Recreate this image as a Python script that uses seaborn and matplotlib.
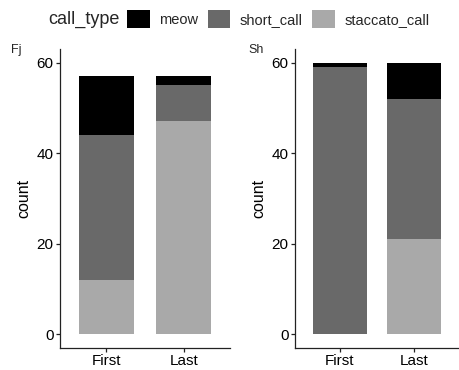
import matplotlib
matplotlib.use("Agg")
import matplotlib.pyplot as plt
import seaborn as sns
import pandas as pd
from matplotlib.patches import Patch

groups = ["Fj", "Sh"]
positions = ["First", "Last"]
call_types = ["meow", "short_call", "staccato_call"]
fj_meow = [13, 2]
fj_short = [32, 8]
fj_staccato = [12, 47]
sh_meow = [1, 8]
sh_short = [59, 31]
sh_staccato = [0, 21]
colors = ["#000000", "#696969", "#a9a9a9"]
y_ticks = [0, 20, 40, 60]

values = {
    "Fj": {"meow": fj_meow, "short_call": fj_short, "staccato_call": fj_staccato},
    "Sh": {"meow": sh_meow, "short_call": sh_short, "staccato_call": sh_staccato},
}
rows = []
for g in groups:
    for ct in call_types:
        for p, v in zip(positions, values[g][ct]):
            rows.append({"group": g, "position": p, "call_type": ct, "count": v})
df = pd.DataFrame(rows)

sns.set_theme(style="ticks")
plt.rcParams["font.family"] = ["Liberation Sans", "DejaVu Sans"]

fig = plt.figure(figsize=(4.6, 3.7), dpi=100)
W, H = 460, 370
axes_px = [(60, 230), (295, 459)]
top_px, bot_px = 49, 348
label_px = [(11, 53), (248, 53)]

for g, (x0, x1), (lx, ly) in zip(groups, axes_px, label_px):
    ax = fig.add_axes([x0 / W, 1 - bot_px / H, (x1 - x0) / W, (bot_px - top_px) / H])
    sub = df[df["group"] == g]
    sns.histplot(data=sub, x="position", hue="call_type", weights="count",
                 multiple="stack", discrete=True, shrink=0.72,
                 hue_order=call_types, palette=colors,
                 alpha=1, linewidth=0, legend=False, ax=ax)
    ax.set_xlim(-0.6, 1.6)
    ax.set_ylim(-3, 63)
    ax.set_xticks([0, 1])
    ax.set_xticklabels(positions)
    ax.set_yticks(y_ticks)
    ax.set_xlabel("")
    ax.set_ylabel("count", fontsize=11.5, labelpad=4, color="black")
    for s in ["top", "right"]:
        ax.spines[s].set_visible(False)
    for s in ["left", "bottom"]:
        ax.spines[s].set_linewidth(0.9)
        ax.spines[s].set_color("#222222")
    ax.tick_params(axis="both", length=3, width=0.9, color="#222222",
                   labelsize=11, labelcolor="black", pad=1.5)
    fig.text(lx / W, 1 - ly / H, g, fontsize=9, ha="left", va="baseline")

fig.text(48 / W, 1 - 19 / H, "call_type", fontsize=13, ha="left", va="center")
handles = [Patch(facecolor=c, edgecolor="none") for c in colors]
fig.legend(handles, call_types, ncol=3, loc="center left",
           bbox_to_anchor=(127 / W, 1 - 19 / H), frameon=False,
           fontsize=10.5, handlelength=1.55, handleheight=1.55,
           handletextpad=0.65, columnspacing=0.65,
           borderpad=0, borderaxespad=0)

fig.savefig("out.png", dpi=100)
